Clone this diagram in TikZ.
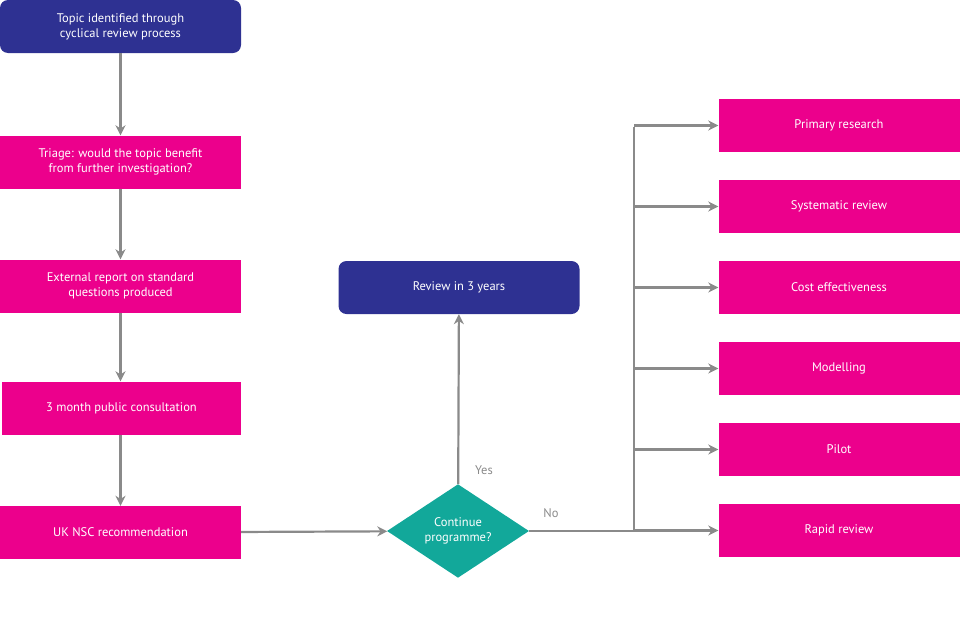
\documentclass[tikz,border=0pt]{standalone}
\usepackage{fontspec}
\setmainfont{PT Sans}
\usetikzlibrary{shapes.geometric,arrows.meta}
\definecolor{pk}{HTML}{EC008C}
\definecolor{db}{HTML}{2E3192}
\definecolor{tl}{HTML}{12A89A}
\definecolor{gr}{HTML}{8A8A8A}
\begin{document}
\begin{tikzpicture}[x=1pt,y=-1pt,
 box/.style={fill=pk,text=white,minimum width=241pt,minimum height=53pt,align=center,font=\fontsize{12.5}{15}\selectfont,inner sep=0pt},
 rbox/.style={box,fill=db,rounded corners=8pt},
 ar/.style={draw=gr,line width=2.2pt,-{Stealth[length=10pt,width=10pt]}},
 ln/.style={draw=gr,line width=2.2pt},
 lab/.style={text=gr,font=\fontsize{12.5}{15}\selectfont}]
\useasboundingbox (0,0) rectangle (960,640);
\node[rbox] (t) at (120.5,26.5) {Topic identified through\\cyclical review process};
\node[box] (tr) at (120.5,162) {Triage: would the topic benefit\\from further investigation?};
\node[box] (ex) at (120.5,286) {External report on standard\\questions produced};
\node[box,minimum width=239pt] (pc) at (121.5,408) {3 month public consultation};
\node[box] (uk) at (120.5,532.5) {UK NSC recommendation};
\node[diamond,fill=tl,text=white,minimum width=142pt,minimum height=90pt,inner sep=0pt,align=center,font=\fontsize{12.5}{15}\selectfont] (d) at (458,531) {Continue\\programme?};
\node[rbox] (rv) at (459,287.5) {Review in 3 years};
\node[box] (p1) at (839,125.5) {Primary research};
\node[box] (p2) at (839,206.5) {Systematic review};
\node[box] (p3) at (839,287.5) {Cost effectiveness};
\node[box] (p4) at (839,368.5) {Modelling};
\node[box] (p5) at (839,449.5) {Pilot};
\node[box] (p6) at (839,530.5) {Rapid review};
\draw[ar] (t) -- (tr);
\draw[ar] (tr) -- (ex);
\draw[ar] (ex) -- (uk |- pc.north);
\draw[ar] (uk |- pc.south) -- (uk);
\draw[ar] (uk) -- (d);
\draw[ar] (d) -- (rv);
\coordinate (j) at (634,531);
\coordinate (jt) at (634,125.5);
\draw[ln] (d.east) -- (j);
\draw[ln] (j) -- ([yshift=-1.1pt]jt);
\foreach \n in {p1,p2,p3,p4,p5,p6} \draw[ar] (j |- \n) -- (\n);
\node[lab] (y) at (484,470) {Yes};
\node[lab] (n) at (551,513) {No};
\end{tikzpicture}
\end{document}
